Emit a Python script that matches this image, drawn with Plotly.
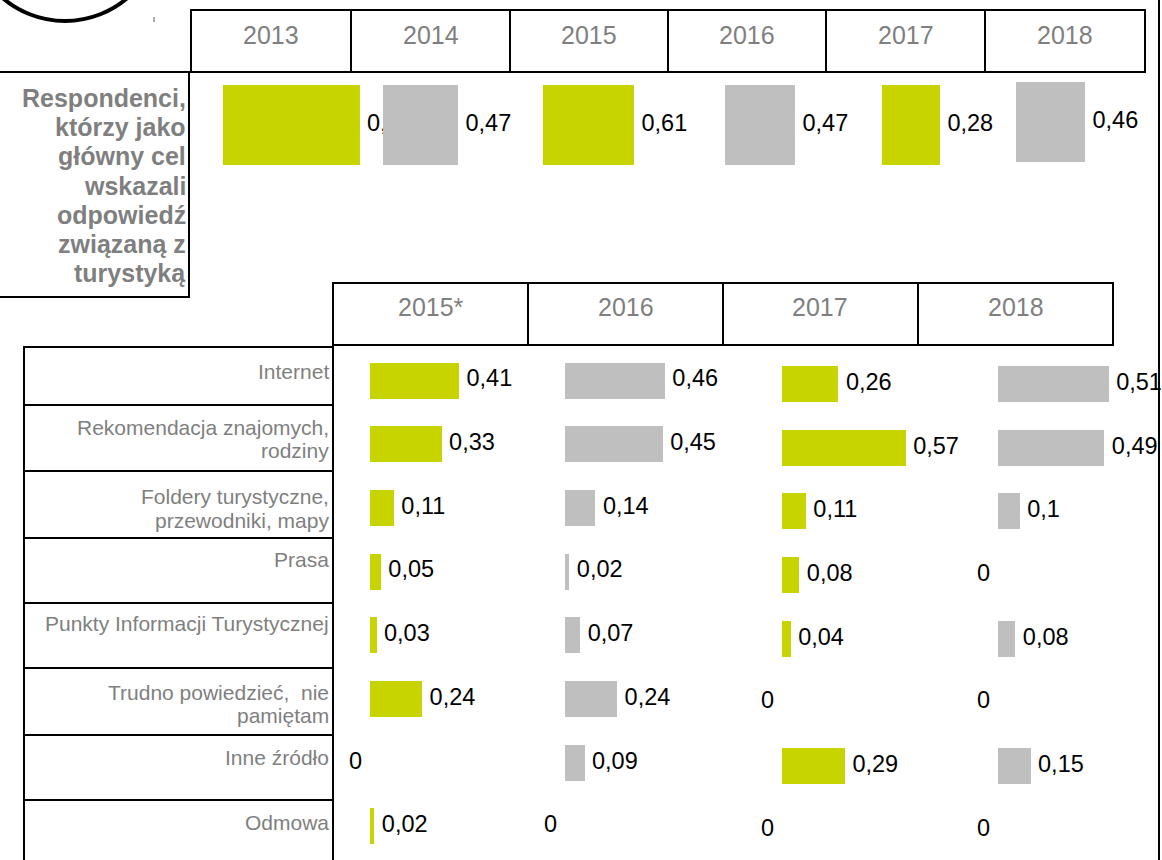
import plotly.graph_objects as go

# ---------------- data ----------------
top_years = ["2013", "2014", "2015", "2016", "2017", "2018"]
top_values = [0.91, 0.47, 0.61, 0.47, 0.28, 0.46]
top_title_lines = ["Respondenci,", "którzy jako", "główny cel", "wskazali",
                   "odpowiedź", "związaną z", "turystyką"]

bottom_years = ["2015*", "2016", "2017", "2018"]
sources = ["Internet",
           "Rekomendacja znajomych, rodziny",
           "Foldery turystyczne, przewodniki, mapy",
           "Prasa",
           "Punkty Informacji Turystycznej",
           "Trudno powiedzieć,  nie pamiętam",
           "Inne źródło",
           "Odmowa"]
source_lines = [["Internet"],
                ["Rekomendacja znajomych,", "rodziny"],
                ["Foldery turystyczne,", "przewodniki, mapy"],
                ["Prasa"],
                ["Punkty Informacji Turystycznej"],
                ["Trudno powiedzieć,  nie", "pamiętam"],
                ["Inne źródło"],
                ["Odmowa"]]
v2015 = [0.41, 0.33, 0.11, 0.05, 0.03, 0.24, 0, 0.02]
v2016 = [0.46, 0.45, 0.14, 0.02, 0.07, 0.24, 0.09, 0]
v2017 = [0.26, 0.57, 0.11, 0.08, 0.04, 0, 0.29, 0]
v2018 = [0.51, 0.49, 0.10, 0, 0.08, 0, 0.15, 0]
bottom_values = [v2015, v2016, v2017, v2018]

GREEN = "#C8D400"
GREY = "#BFBFBF"
TXT_GREY = "#7F7F7F"
FONT = "Liberation Sans, Arial, sans-serif"

W, H = 1162, 860


def xp(px):
    return px / W


def yp(py):
    return 1 - py / H


def fmt(v):
    return "0" if v == 0 else ("%g" % v).replace(".", ",")


fig = go.Figure()
layout_axes = {}
PAD = 7.5
LEFT_PX = 40   # room left of the bar base (for "0" labels)
VAL_SIZE = 23.5

# ---------------- top panels ----------------
top_base = [223, 383, 543, 725, 882, 1016]
top_scale = [150, 159.6, 149.2, 148.9, 207, 150]
top_ybox = [(85, 165)] * 5 + [(82, 162)]
n = 0
for k, yr in enumerate(top_years):
    n += 1
    sx = "" if n == 1 else str(n)
    base, sc = top_base[k], top_scale[k]
    x0 = base - LEFT_PX
    x1 = min(base + 200, W)
    y0, y1 = top_ybox[k]
    color = GREEN if k % 2 == 0 else GREY
    v = top_values[k]
    fig.add_trace(go.Bar(x=[v], y=[0], orientation="h", width=1,
                         marker=dict(color=color, line=dict(width=0)),
                         xaxis="x" + sx, yaxis="y" + sx, showlegend=False,
                         hoverinfo="skip"))
    fig.add_trace(go.Scatter(x=[v + PAD / sc], y=[0], mode="text",
                             text=[fmt(v)], textposition="middle right",
                             textfont=dict(family=FONT, size=VAL_SIZE, color="black"),
                             cliponaxis=False, xaxis="x" + sx, yaxis="y" + sx,
                             showlegend=False, hoverinfo="skip"))
    layout_axes["xaxis" + sx] = dict(domain=[xp(x0), xp(x1)],
                                     range=[-(base - x0) / sc, (x1 - base) / sc],
                                     visible=False, anchor="y" + sx, fixedrange=True)
    layout_axes["yaxis" + sx] = dict(domain=[yp(y1), yp(y0)], range=[-0.5, 0.5],
                                     visible=False, anchor="x" + sx, fixedrange=True)

# ---------------- bottom panels ----------------
bot_base = [370, 565, 782, 998]
bot_scale = 217
bot_center0 = [380.5, 380.5, 384, 384]
STEP = 63.7
BAR_PX = 36
YTOP, YBOT = 348, 860
for k, yr in enumerate(bottom_years):
    n += 1
    sx = str(n)
    base = bot_base[k]
    x0 = base - LEFT_PX
    x1 = min(base + 200, W)
    vals = bottom_values[k]
    color = GREEN if k % 2 == 0 else GREY
    fig.add_trace(go.Bar(x=vals, y=sources, orientation="h", width=BAR_PX / STEP,
                         marker=dict(color=color, line=dict(width=0)),
                         xaxis="x" + sx, yaxis="y" + sx, showlegend=False,
                         hoverinfo="skip"))
    tx = [v + PAD / bot_scale if v > 0 else -8 / bot_scale for v in vals]
    tp = ["middle right" if v > 0 else "middle left" for v in vals]
    fig.add_trace(go.Scatter(x=tx, y=sources, mode="text",
                             text=[fmt(v) for v in vals], textposition=tp,
                             textfont=dict(family=FONT, size=VAL_SIZE, color="black"),
                             cliponaxis=False, xaxis="x" + sx, yaxis="y" + sx,
                             showlegend=False, hoverinfo="skip"))
    c0 = bot_center0[k]
    layout_axes["xaxis" + sx] = dict(domain=[xp(x0), xp(x1)],
                                     range=[-(base - x0) / bot_scale,
                                            (x1 - base) / bot_scale],
                                     visible=False, anchor="y" + sx, fixedrange=True)
    layout_axes["yaxis" + sx] = dict(domain=[yp(YBOT), yp(YTOP)],
                                     type="category", categoryorder="array",
                                     categoryarray=sources,
                                     range=[(YBOT - c0) / STEP, -(c0 - YTOP) / STEP],
                                     visible=False, anchor="x" + sx, fixedrange=True)

# ---------------- shapes ----------------
shapes = []
LINE = dict(color="black", width=2)


def rect(x0, y0, x1, y1, line=LINE):
    shapes.append(dict(type="rect", xref="paper", yref="paper",
                       x0=xp(x0), x1=xp(x1), y0=yp(y1), y1=yp(y0), line=line,
                       fillcolor="rgba(0,0,0,0)", layer="below"))


def seg(x0, y0, x1, y1, line=LINE):
    shapes.append(dict(type="line", xref="paper", yref="paper",
                       x0=xp(x0), x1=xp(x1), y0=yp(y0), y1=yp(y1), line=line,
                       layer="below"))


# logo arc (partially visible circle)
shapes.append(dict(type="circle", xref="paper", yref="paper",
                   x0=xp(-31), x1=xp(161), y0=yp(21), y1=yp(-171),
                   line=dict(color="black", width=4)))
seg(154, 17, 154, 22, dict(color="#555555", width=1))

# top header boxes
top_edges = [191, 351, 510, 668, 826, 985, 1145]
for i in range(len(top_edges) - 1):
    rect(top_edges[i], 10, top_edges[i + 1], 72)
# top label box
seg(0, 72, 191, 72)
rect(-5, 72, 189, 297)

# bottom header boxes
bot_edges = [333, 528, 723, 918, 1113]
for i in range(len(bot_edges) - 1):
    rect(bot_edges[i], 283, bot_edges[i + 1], 345)

# left table
row_tops = [347, 405, 471, 538, 603, 668, 735, 800, 870]
for i in range(len(row_tops) - 1):
    rect(24, row_tops[i], 333, row_tops[i + 1])
seg(333, 283, 333, 860)
seg(1159, 0, 1159, 860)

# ---------------- annotations ----------------
ann = []
for i, yr in enumerate(top_years):
    ann.append(dict(x=xp((top_edges[i] + top_edges[i + 1]) / 2), y=yp(35),
                    xref="paper", yref="paper", text=yr, showarrow=False,
                    xanchor="center", yanchor="middle",
                    font=dict(family=FONT, size=25, color=TXT_GREY)))
for i, yr in enumerate(bottom_years):
    ann.append(dict(x=xp((bot_edges[i] + bot_edges[i + 1]) / 2), y=yp(307),
                    xref="paper", yref="paper", text=yr, showarrow=False,
                    xanchor="center", yanchor="middle",
                    font=dict(family=FONT, size=25, color=TXT_GREY)))
for j, line in enumerate(top_title_lines):
    ann.append(dict(x=xp(188), y=yp(98 + j * 29.2), xref="paper", yref="paper",
                    text="<b>%s</b>" % line, showarrow=False,
                    xanchor="right", yanchor="middle",
                    font=dict(family=FONT, size=25, color=TXT_GREY)))
label_first = [372, 427, 497, 559, 623, 692, 757, 822]
for i, lines in enumerate(source_lines):
    for j, line in enumerate(lines):
        ann.append(dict(x=xp(331), y=yp(label_first[i] + j * 23), xref="paper",
                        yref="paper", text=line, showarrow=False,
                        xanchor="right", yanchor="middle",
                        font=dict(family=FONT, size=21, color=TXT_GREY)))

fig.update_layout(width=W, height=H, autosize=False,
                  margin=dict(l=0, r=0, t=0, b=0),
                  paper_bgcolor="white", plot_bgcolor="rgba(0,0,0,0)",
                  shapes=shapes, annotations=ann, showlegend=False,
                  bargap=0, **layout_axes)

fig.write_html("out.html",
               config={"displayModeBar": False},
               post_script="document.body.style.margin='0px';"
                           "document.body.style.overflow='hidden';")
